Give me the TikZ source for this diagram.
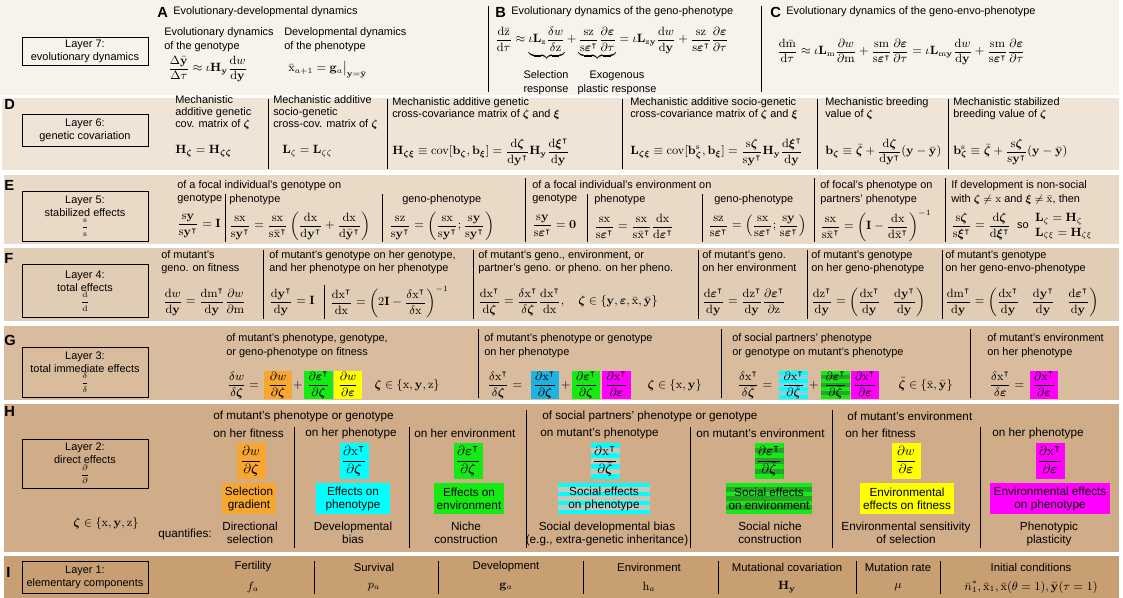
\documentclass[tikz,border=0pt]{standalone}
\usepackage[no-math]{fontspec}
\setmainfont{Liberation Sans}
\usepackage{amsmath,amssymb,bm}
\usetikzlibrary{calc}

\definecolor{bgSeven}{RGB}{247,242,236}
\definecolor{bgSix}{RGB}{240,228,215}
\definecolor{bgFive}{RGB}{233,217,199}
\definecolor{bgFour}{RGB}{225,204,181}
\definecolor{bgThree}{RGB}{216,188,157}
\definecolor{bgTwo}{RGB}{208,172,136}
\definecolor{bgOne}{RGB}{200,159,115}
\definecolor{cOr}{RGB}{247,166,48}
\definecolor{cCy}{RGB}{0,255,255}
\definecolor{cBl}{RGB}{30,178,226}
\definecolor{cGr}{RGB}{20,235,20}
\definecolor{cGrD}{RGB}{40,165,40}
\definecolor{cYe}{RGB}{255,255,0}
\definecolor{cMa}{RGB}{255,0,255}
\definecolor{cStr}{RGB}{200,200,185}
\definecolor{cBlL}{RGB}{150,205,220}

\newcommand{\fs}{\fontsize{8.2}{9.75}\selectfont}
\newcommand{\fsD}{\fontsize{8.2}{9}\selectfont}
\newcommand{\fsB}{\fontsize{8.2}{10.5}\selectfont}
\newcommand{\fsH}{\fontsize{8.8}{9.75}\selectfont}
\newcommand{\fsI}{\fontsize{8.5}{9.5}\selectfont}
\newcommand{\mfs}{\fontsize{9}{11}\selectfont}
\newcommand{\dd}{\mathrm{d}}
\newcommand{\sS}{\mathrm{s}}
\newcommand{\vx}{\mathrm{x}}
\newcommand{\vy}{\mathbf{y}}
\newcommand{\vz}{\mathrm{z}}
\newcommand{\vm}{\mathrm{m}}
\newcommand{\zet}{\bm{\zeta}}
\newcommand{\veps}{\bm{\varepsilon}}
\newcommand{\vxi}{\bm{\xi}}
\newcommand{\tp}{^{\intercal}}
\newcommand{\bH}{\mathbf{H}}
\newcommand{\bL}{\mathbf{L}}
\newcommand{\bI}{\mathbf{I}}
\newcommand{\bb}{\mathbf{b}}

\tikzset{
 txt/.style={font=\fs, inner sep=0pt, align=left, anchor=north west},
 hdr/.style={font=\fs, inner sep=0pt, anchor=west},
 ctxt/.style={font=\fs, inner sep=0pt, align=center},
 eq/.style={font=\mfs, inner sep=0pt, anchor=west},
 lab/.style={font=\bfseries\fontsize{11}{12}\selectfont, inner sep=0pt, anchor=west},
 layer/.style={draw, line width=0.7pt, font=\fs, align=center, inner sep=0pt, minimum width=94.5pt},
 sepl/.style={line width=0.6pt},
 piece/.style={font=\mfs, inner xsep=1pt, inner ysep=0pt, text height=12.5pt, text depth=8pt},
 gbox/.style={piece, inner xsep=0pt, minimum width=21.5pt},
 hfr/.style={font=\fontsize{10}{12}\selectfont, inner xsep=0pt, inner ysep=1pt, minimum width=21.75pt, text height=15pt, text depth=10pt},
 hlab/.style={font=\fsH, align=center, inner xsep=2pt, inner ysep=0pt, minimum height=23.25pt},
 stripes/.style 2 args={fill=#2, path picture={
   \foreach \i in {0,2,4,6}{
     \fill[#1] ($(path picture bounding box.north west)!{\i/7}!(path picture bounding box.south west)$) rectangle ($(path picture bounding box.north east)!{(\i+1)/7}!(path picture bounding box.south east)$);
   }}},
}

\begin{document}
\begin{tikzpicture}[x=0.75pt,y=-0.75pt]
\useasboundingbox (0,0) rectangle (1123,598);
\fill[white] (0,0) rectangle (1123,598);
\fill[bgSeven] (0,0) rectangle (1119,95);
\fill[bgSix] (2,98) rectangle (1119,170);
\fill[bgFive] (4,175) rectangle (1119,244);
\fill[bgFour] (4,248) rectangle (1119,321);
\fill[bgThree] (4,326) rectangle (1119,400);
\fill[bgTwo] (4,404) rectangle (1119,552);
\fill[bgOne] (4,556) rectangle (1119,598);

%% ---------------- Layer 7
\node[layer, minimum height=21pt] (L7) at (85,51) {Layer 7:\\evolutionary dynamics};
\node[lab] (lA) at (157,12) {A};
\node[hdr] (hA) at ($(lA.east)+(5,0)$) {Evolutionary-developmental dynamics};
\node[txt, font=\fsB] (tA1) at (164,27) {Evolutionary dynamics\\of the genotype};
\node[eq] (eA1) at (168,69) {$\displaystyle\frac{\Delta\bar{\vy}}{\Delta\tau}\approx\iota\bH_{\vy}\frac{\dd w}{\dd\vy}$};
\node[txt, font=\fsB] (tA2) at (284,27) {Developmental dynamics\\of the phenotype};
\node[eq] (eA2) at (288,70) {$\bar{\vx}_{a+1}=\mathbf{g}_a\big|_{\vy=\bar{\vy}}$};
\draw[sepl] (488,6) -- (488,92);
\node[lab] (lB) at (495,12) {B};
\node[hdr] (hB) at ($(lB.east)+(5,0)$) {Evolutionary dynamics of the geno-phenotype};
\node[eq, anchor=base west] (eB) at (495,43) {$\displaystyle \frac{\dd\bar{\vz}}{\dd\tau}\approx\underbrace{\iota\bL_{\vz}\frac{\delta w}{\delta\vz}}+\underbrace{\frac{\sS\vz}{\sS\veps\tp}\frac{\partial\veps}{\partial\tau}}=\iota\bL_{\vz\vy}\frac{\dd w}{\dd\vy}+\frac{\sS\vz}{\sS\veps\tp}\frac{\partial\veps}{\partial\tau}$};
\node[ctxt, font=\fsB] (bl1) at (546,83) {Selection\\response};
\node[ctxt, font=\fsB] (bl2) at (617,83) {Exogenous\\plastic response};
\draw[sepl] (761,6) -- (761,92);
\node[lab] (lC) at (770,12) {C};
\node[hdr] (hC) at ($(lC.east)+(5,0)$) {Evolutionary dynamics of the geno-envo-phenotype};
\node[eq] (eC) at (777,52) {$\displaystyle\frac{\dd\bar{\vm}}{\dd\tau}\approx\iota\bL_{\vm}\frac{\partial w}{\partial\vm}+\frac{\sS\vm}{\sS\veps\tp}\frac{\partial\veps}{\partial\tau}=\iota\bL_{\vm\vy}\frac{\dd w}{\dd\vy}+\frac{\sS\vm}{\sS\veps\tp}\frac{\partial\veps}{\partial\tau}$};

%% ---------------- Layer 6 (D)
\node[lab] (lD) at (4,104) {D};
\node[layer, minimum height=24pt] (L6) at (85,130) {Layer 6:\\genetic covariation};
\node[txt, font=\fsD] (tD1) at (175,95) {Mechanistic\\additive genetic\\cov. matrix of $\zet$};
\node[eq] (eD1) at (175,151) {$\bH_{\zet}=\bH_{\zet\zet}$};
\draw[sepl] (268,99) -- (268,169);
\node[txt, font=\fsD] (tD2) at (273,95) {Mechanistic additive\\socio-genetic\\cross-cov. matrix of $\zet$};
\node[eq] (eD2) at (282,151) {$\bL_{\zeta}=\bL_{\zeta\zeta}$};
\draw[sepl] (387,99) -- (387,169);
\node[txt, font=\fsD] (tD3) at (392,97) {Mechanistic additive genetic\\cross-covariance matrix of $\zet$ and $\vxi$};
\node[eq] (eD3) at (392,152) {$\displaystyle\bH_{\zet\vxi}\equiv\operatorname{cov}[\bb_{\zet},\bb_{\vxi}]=\frac{\dd\zet}{\dd\vy\tp}\bH_{\vy}\frac{\dd\vxi\tp}{\dd\vy}$};
\draw[sepl] (622,99) -- (622,169);
\node[txt, font=\fsD] (tD4) at (630,97) {Mechanistic additive socio-genetic\\cross-covariance matrix of $\zet$ and $\vxi$};
\node[eq] (eD4) at (630,152) {$\displaystyle\bL_{\zet\vxi}\equiv\operatorname{cov}[\bb^{\sS}_{\zet},\bb_{\vxi}]=\frac{\sS\zet}{\sS\vy\tp}\bH_{\vy}\frac{\dd\vxi\tp}{\dd\vy}$};
\draw[sepl] (817,99) -- (817,169);
\node[txt, font=\fsD] (tD5) at (825,97) {Mechanistic breeding\\value of $\zet$};
\node[eq] (eD5) at (825,152) {$\displaystyle\bb_{\zet}\equiv\bar{\zet}+\frac{\dd\zet}{\dd\vy\tp}(\vy-\bar{\vy})$};
\draw[sepl] (948,99) -- (948,169);
\node[txt, font=\fsD] (tD6) at (953,97) {Mechanistic stabilized\\breeding value of $\zet$};
\node[eq] (eD6) at (953,152) {$\displaystyle\bb^{\sS}_{\zet}\equiv\bar{\zet}+\frac{\sS\zet}{\sS\vy\tp}(\vy-\bar{\vy})$};

%% ---------------- Layer 5 (E)
\node[lab] (lE) at (4,185) {E};
\node[layer, minimum height=37.5pt] (L5) at (85,216) {Layer 5:\\stabilized effects\\{\fontsize{6}{6}\selectfont$\displaystyle\frac{\sS}{\sS}$}};
\node[txt] (tE0) at (177,180) {of a focal individual's genotype on};
\node[txt] (tE1) at (177,194) {genotype};
\node[eq] (eE1) at (177,226) {$\displaystyle\frac{\sS\vy}{\sS\vy\tp}=\bI$};
\draw[sepl] (225,194) -- (225,242);
\node[txt] (tE2) at (229,194) {phenotype};
\node[eq] (eE2) at (229,226) {$\displaystyle\frac{\sS\vx}{\sS\vy\tp}=\frac{\sS\vx}{\sS\bar{\vx}\tp}\left(\frac{\dd\vx}{\dd\vy\tp}+\frac{\dd\vx}{\dd\bar{\vy}\tp}\right)$};
\draw[sepl] (382,194) -- (382,242);
\node[txt] (tE3) at (402,194) {geno-phenotype};
\node[eq] (eE3) at (389,226) {$\displaystyle\frac{\sS\vz}{\sS\vy\tp}=\left(\frac{\sS\vx}{\sS\vy\tp};\frac{\sS\vy}{\sS\vy\tp}\right)$};
\draw[sepl] (525,178) -- (525,242);
\node[txt] (tE4) at (532,180) {of a focal individual's environment on};
\node[txt] (tE5) at (532,194) {genotype};
\node[eq] (eE4) at (532,226) {$\displaystyle\frac{\sS\vy}{\sS\veps\tp}=\mathbf{0}$};
\draw[sepl] (587,194) -- (587,242);
\node[txt] (tE6) at (594,194) {phenotype};
\node[eq] (eE5) at (594,226) {$\displaystyle\frac{\sS\vx}{\sS\veps\tp}=\frac{\sS\vx}{\sS\bar{\vx}\tp}\frac{\dd\vx}{\dd\veps\tp}$};
\draw[sepl] (702,194) -- (702,242);
\node[txt] (tE7) at (714,194) {geno-phenotype};
\node[eq] (eE6) at (708,226) {$\displaystyle\frac{\sS\vz}{\sS\veps\tp}=\left(\frac{\sS\vx}{\sS\veps\tp};\frac{\sS\vy}{\sS\veps\tp}\right)$};
\draw[sepl] (814,178) -- (814,242);
\node[txt, font=\fsB] (tE8) at (820,180) {of focal's phenotype on\\partners' phenotype};
\node[eq] (eE7) at (820,226) {$\displaystyle\frac{\sS\vx}{\sS\bar{\vx}\tp}=\left(\bI-\frac{\dd\vx}{\dd\bar{\vx}\tp}\right)^{-1}$};
\draw[sepl] (945,178) -- (945,242);
\node[txt, font=\fsB] (tE9) at (951,180) {If development is non-social\\with $\zet\neq\vx$ and $\vxi\neq\bar{\vx}$, then};
\node[eq] (eE8) at (951,226) {$\displaystyle\frac{\sS\zet}{\sS\vxi\tp}=\frac{\dd\zet}{\dd\vxi\tp}$ {\fs\ so\ } $\begin{array}{@{}l@{}}\bL_{\zeta}=\bH_{\zeta}\\ \bL_{\zeta\xi}=\bH_{\zeta\xi}\end{array}$};

%% ---------------- Layer 4 (F)
\node[lab] (lF) at (4,258) {F};
\node[layer, minimum height=39.75pt] (L4) at (85,291) {Layer 4:\\total effects\\{\fontsize{6}{6}\selectfont$\displaystyle\frac{\dd}{\dd}$}};
\node[txt] (tF1) at (161,250) {of mutant's\\geno. on fitness};
\node[eq] (eF1) at (163,302) {$\displaystyle\frac{\dd w}{\dd\vy}=\frac{\dd\vm\tp}{\dd\vy}\frac{\partial w}{\partial\vm}$};
\draw[sepl] (263,250) -- (263,319);
\node[txt] (tF2) at (269,250) {of mutant's genotype on her genotype,\\and her phenotype on her phenotype};
\node[eq] (eF2) at (269,302) {$\displaystyle\frac{\dd\vy\tp}{\dd\vy}=\bI$};
\draw[sepl] (324,285) -- (324,319);
\node[eq] (eF3) at (330,302) {$\displaystyle\frac{\dd\vx\tp}{\dd\vx}=\left(2\bI-\frac{\delta\vx\tp}{\delta\vx}\right)^{-1}$};
\draw[sepl] (473,250) -- (473,319);
\node[txt] (tF3) at (478,250) {of mutant's geno., environment, or\\partner's geno. or pheno. on her pheno.};
\node[eq] (eF4) at (478,302) {$\displaystyle\frac{\dd\vx\tp}{\dd\zet}=\frac{\delta\vx\tp}{\delta\zet}\frac{\dd\vx\tp}{\dd\vx},\quad\zet\in\{\vy,\veps,\bar{\vx},\bar{\vy}\}$};
\draw[sepl] (698,250) -- (698,319);
\node[txt] (tF4) at (702,250) {of mutant's geno.\\on her environment};
\node[eq] (eF5) at (702,302) {$\displaystyle\frac{\dd\veps\tp}{\dd\vy}=\frac{\dd\vz\tp}{\dd\vy}\frac{\partial\veps\tp}{\partial\vz}$};
\draw[sepl] (807,250) -- (807,319);
\node[txt] (tF5) at (811,250) {of mutant's genotype\\on her geno-phenotype};
\node[eq] (eF6) at (811,302) {$\displaystyle\frac{\dd\vz\tp}{\dd\vy}=\left(\frac{\dd\vx\tp}{\dd\vy}\quad\frac{\dd\vy\tp}{\dd\vy}\right)$};
\draw[sepl] (942,250) -- (942,319);
\node[txt] (tF6) at (945,250) {of mutant's genotype\\on her geno-envo-phenotype};
\node[eq] (eF7) at (945,302) {$\displaystyle\frac{\dd\vm\tp}{\dd\vy}=\left(\frac{\dd\vx\tp}{\dd\vy}\quad\frac{\dd\vy\tp}{\dd\vy}\quad\frac{\dd\veps\tp}{\dd\vy}\right)$};

%% ---------------- Layer 3 (G)
\node[lab] (lG) at (4,340) {G};
\node[layer, minimum height=37.5pt] (L3) at (85,372) {Layer 3:\\total immediate effects\\{\fontsize{6}{6}\selectfont$\displaystyle\frac{\delta}{\delta}$}};
\node[txt, font=\fsB] (tG1) at (226,333) {of mutant's phenotype, genotype,\\or geno-phenotype on fitness};
\node[piece, anchor=west] (g1a) at (226,385) {$\displaystyle\frac{\delta w}{\delta\zet}={}$};
\node[gbox, fill=cOr] (g1b) at (278,385) {$\displaystyle\frac{\partial w}{\partial\zet}$};
\node[piece] (g1c) at (298,385) {$+$};
\node[gbox, fill=cGr] (g1d) at (318.5,385) {$\displaystyle\frac{\partial\veps\tp}{\partial\zet}$};
\node[gbox, fill=cYe] (g1e) at (348,385) {$\displaystyle\frac{\partial w}{\partial\veps}$};
\node[piece, anchor=west] (g1f) at (373,385) {$\zet\in\{\vx,\vy,\vz\}$};
\draw[sepl] (478,329) -- (478,398);
\node[txt, font=\fsB] (tG2) at (484,333) {of mutant's phenotype or genotype\\on her phenotype};
\node[piece, anchor=west] (g2a) at (486,385) {$\displaystyle\frac{\delta\vx\tp}{\delta\zet}={}$};
\node[gbox, fill=cBl] (g2b) at (545,385) {$\displaystyle\frac{\partial\vx\tp}{\partial\zet}$};
\node[piece] (g2c) at (566,385) {$+$};
\node[gbox, fill=cGr] (g2d) at (586,385) {$\displaystyle\frac{\partial\veps\tp}{\partial\zet}$};
\node[gbox, fill=cMa] (g2e) at (616.5,385) {$\displaystyle\frac{\partial\vx\tp}{\partial\veps}$};
\node[piece, anchor=west] (g2f) at (646,385) {$\zet\in\{\vx,\vy\}$};
\draw[sepl] (721,329) -- (721,398);
\node[txt, font=\fsB] (tG3) at (732,333) {of social partners' phenotype\\or genotype on mutant's phenotype};
\node[piece, anchor=west] (g3a) at (736,385) {$\displaystyle\frac{\delta\vx\tp}{\delta\bar{\zet}}={}$};
\node[gbox, stripes={cCy}{cBlL}] (g3b) at (793.5,385) {$\displaystyle\frac{\partial\vx\tp}{\partial\bar{\zet}}$};
\node[piece] (g3c) at (814,385) {$+$};
\node[gbox, stripes={cGr}{cGrD}] (g3d) at (835.5,385) {$\displaystyle\frac{\partial\veps\tp}{\partial\bar{\zet}}$};
\node[gbox, fill=cMa] (g3e) at (865,385) {$\displaystyle\frac{\partial\vx\tp}{\partial\veps}$};
\node[piece, anchor=west] (g3f) at (897,385) {$\bar{\zet}\in\{\bar{\vx},\bar{\vy}\}$};
\draw[sepl] (970,329) -- (970,398);
\node[txt, font=\fsB] (tG4) at (987,333) {of mutant's environment\\on her phenotype};
\node[piece, anchor=west] (g4a) at (988,385) {$\displaystyle\frac{\delta\vx\tp}{\delta\veps}={}$};
\node[gbox, fill=cMa] (g4b) at (1044,385) {$\displaystyle\frac{\partial\vx\tp}{\partial\veps}$};

%% ---------------- Layer 2 (H)
\node[lab] (lH) at (4,411) {H};
\node[layer, minimum height=36.75pt] (L2) at (85,463.5) {Layer 2:\\direct effects\\{\fontsize{6}{6}\selectfont$\displaystyle\frac{\partial}{\partial}$}};
\node[eq, anchor=center] (hz) at (106,523) {$\zet\in\{\vx,\vy,\vz\}$};
\node[hdr, font=\fsH] (hq) at (158,534) {quantifies:};
\node[hdr, font=\fsH] (hh1) at (213,416) {of mutant's phenotype or genotype};
\node[hdr, font=\fsH] (hh2) at (542,416) {of social partners' phenotype or genotype};
\node[hdr, font=\fsH] (hh3) at (847,416) {of mutant's environment};
\node[hdr, font=\fsH] (hs1) at (213,433) {on her fitness};
\node[hdr, font=\fsH] (hs2) at (305,433) {on her phenotype};
\node[hdr, font=\fsH] (hs3) at (414,433) {on her environment};
\node[hdr, font=\fsH] (hs4) at (540,433) {on mutant's phenotype};
\node[hdr, font=\fsH] (hs5) at (696,433) {on mutant's environment};
\node[hdr, font=\fsH] (hs6) at (845,433) {on her fitness};
\node[hdr, font=\fsH] (hs7) at (992,433) {on her phenotype};
\draw[sepl] (294,427) -- (294,548);
\draw[sepl] (409,427) -- (409,548);
\draw[sepl] (526,410) -- (526,548);
\draw[sepl] (690,427) -- (690,548);
\draw[sepl] (832,410) -- (832,548);
\draw[sepl] (980,427) -- (980,548);
\node[hfr, fill=cOr] (f1) at (251,461) {$\displaystyle\frac{\partial w}{\partial\zet}$};
\node[hfr, fill=cCy] (f2) at (354,461) {$\displaystyle\frac{\partial\vx\tp}{\partial\zet}$};
\node[hfr, fill=cGr] (f3) at (468,461) {$\displaystyle\frac{\partial\veps\tp}{\partial\zet}$};
\node[hfr, stripes={cCy}{cStr}] (f4) at (605,461) {$\displaystyle\frac{\partial\vx\tp}{\partial\bar{\zet}}$};
\node[hfr, stripes={cGr}{cGrD}] (f5) at (769,461) {$\displaystyle\frac{\partial\veps\tp}{\partial\bar{\zet}}$};
\node[hfr, fill=cYe] (f6) at (906,461) {$\displaystyle\frac{\partial w}{\partial\veps}$};
\node[hfr, fill=cMa] (f7) at (1050,461) {$\displaystyle\frac{\partial\vx\tp}{\partial\veps}$};
\node[hlab, fill=cOr, minimum width=40.5pt] (b1) at (249,498.5) {Selection\\gradient};
\node[hlab, fill=cCy, minimum width=56pt] (b2) at (353,498.5) {Effects on\\phenotype};
\node[hlab, fill=cGr, minimum width=52pt] (b3) at (469,498.5) {Effects on\\environment};
\node[hlab, stripes={cCy}{cStr}, minimum width=69pt] (b4) at (604,498.5) {Social effects\\on phenotype};
\node[hlab, stripes={cGr}{cGrD}, minimum width=64pt] (b5) at (769,498.5) {Social effects\\on environment};
\node[hlab, fill=cYe, minimum width=70pt] (b6) at (907,498.5) {Environmental\\effects on fitness};
\node[hlab, fill=cMa, minimum width=90pt] (b7) at (1050,498.5) {Environmental effects\\on phenotype};
\node[ctxt, font=\fsH, anchor=north] (q1) at (250,522) {Directional\\selection};
\node[ctxt, font=\fsH, anchor=north] (q2) at (353,522) {Developmental\\bias};
\node[ctxt, font=\fsH, anchor=north] (q3) at (466,522) {Niche\\construction};
\node[ctxt, font=\fsH, anchor=north] (q4) at (607,522) {Social developmental bias\\(e.g., extra-genetic inheritance)};
\node[ctxt, font=\fsH, anchor=north] (q5) at (770,522) {Social niche\\construction};
\node[ctxt, font=\fsH, anchor=north] (q6) at (906,522) {Environmental sensitivity\\of selection};
\node[ctxt, font=\fsH, anchor=north] (q7) at (1049,522) {Phenotypic\\plasticity};

%% ---------------- Layer 1 (I)
\node[lab] (lI) at (6,572) {I};
\node[layer, minimum height=24pt] (L1) at (85,577.5) {Layer 1:\\elementary components};
\node[ctxt, font=\fsI] (i1) at (253,567) {Fertility};
\node[eq, anchor=center] (j1) at (253,587) {$f_a$};
\draw[sepl] (314,561) -- (314,594);
\node[ctxt, font=\fsI] (i2) at (374,567) {Survival};
\node[eq, anchor=center] (j2) at (374,587) {$p_a$};
\draw[sepl] (438,561) -- (438,594);
\node[ctxt, font=\fsI] (i3) at (506,567) {Development};
\node[eq, anchor=center] (j3) at (506,587) {$\mathbf{g}_a$};
\draw[sepl] (583,561) -- (583,594);
\node[ctxt, font=\fsI] (i4) at (649,567) {Environment};
\node[eq, anchor=center] (j4) at (649,587) {$\mathrm{h}_a$};
\draw[sepl] (718,561) -- (718,594);
\node[ctxt, font=\fsI] (i5) at (787,567) {Mutational covariation};
\node[eq, anchor=center] (j5) at (787,587) {$\bH_{\vy}$};
\draw[sepl] (856,561) -- (856,594);
\node[ctxt, font=\fsI] (i6) at (898,567) {Mutation rate};
\node[eq, anchor=center] (j6) at (898,587) {$\mu$};
\draw[sepl] (940,561) -- (940,594);
\node[ctxt, font=\fsI] (i7) at (1031,567) {Initial conditions};
\node[eq, anchor=center] (j7) at (1031,587) {$\bar{n}^{*}_{1},\bar{\vx}_1,\bar{\vx}(\theta=1),\bar{\vy}(\tau=1)$};
\end{tikzpicture}
\end{document}
